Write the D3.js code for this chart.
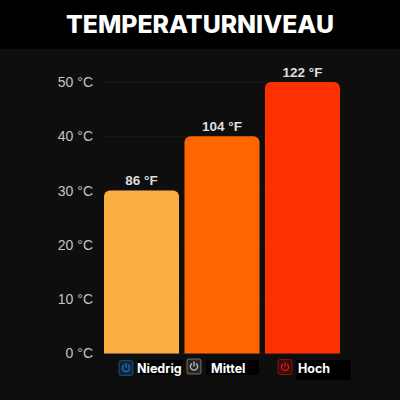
<!DOCTYPE html>
<html lang="de">
<head>
<meta charset="UTF-8">
<title>Temperaturniveau</title>
<script src="https://d3js.org/d3.v7.min.js"></script>
<style>
html, body { margin: 0; padding: 0; background: #0e0e0e; }
svg { display: block; }
</style>
</head>
<body>
<svg id="chart" width="400" height="400"></svg>
<script>
// Data
const categories = ["Niedrig", "Mittel", "Hoch"];
const celsius = [30, 40, 50];
const fahrenheit = ["86 °F", "104 °F", "122 °F"];
const barColors = ["#fdae42", "#ff6600", "#fd3100"];
const iconColors = ["#1f77c4", "#c9c9c9", "#d81e1e"];
const iconFills = ["#10263a", "#262626", "#3a0c0c"];
const yTicks = [0, 10, 20, 30, 40, 50];
const titleText = "TEMPERATURNIVEAU";

const svg = d3.select("#chart");
const sansFont = "Liberation Sans, Arial, sans-serif";
const titleFont = "Inter, sans-serif";

const x = d3.scaleBand().domain(categories).range([104, 340]).paddingInner(0.068).paddingOuter(0);
const y = d3.scaleLinear().domain([0, 50]).range([353.5, 82]);

// Background + title band
svg.append("rect").attr("width", 400).attr("height", 400).attr("fill", "#0e0e0e");
svg.append("rect").attr("width", 400).attr("height", 49).attr("fill", "#000");
svg.append("text")
    .attr("x", 200).attr("y", 33)
    .attr("text-anchor", "middle")
    .attr("textLength", 268)
    .attr("lengthAdjust", "spacingAndGlyphs")
    .attr("font-family", titleFont)
    .attr("font-size", 24)
    .attr("font-weight", 800)
    .attr("fill", "#fff")
    .text(titleText);

// Y axis
const yAxis = svg.append("g")
    .attr("transform", "translate(104,0)")
    .call(d3.axisLeft(y).tickValues(yTicks).tickSize(0).tickPadding(11).tickFormat(d => d + " °C"));
yAxis.select(".domain").remove();
yAxis.selectAll("text")
    .attr("font-family", sansFont)
    .attr("font-size", 14)
    .attr("fill", "#c4c4c4");

// Grid lines
svg.append("g").selectAll("line")
    .data(yTicks)
    .join("line")
    .attr("x1", 104).attr("x2", 340)
    .attr("y1", d => y(d)).attr("y2", d => y(d))
    .attr("stroke", "#191919");

// Bars, square at the bottom and rounded on top
function barPath(d, i) {
    const x0 = x(categories[i]);
    const x1 = x0 + x.bandwidth();
    const y0 = y(0);
    const yt = y(d);
    const path = d3.path();
    path.moveTo(x0, y0);
    path.lineTo(x0, yt + 6);
    path.arcTo(x0, yt, x0 + 6, yt, 6);
    path.lineTo(x1 - 6, yt);
    path.arcTo(x1, yt, x1, yt + 6, 6);
    path.lineTo(x1, y0);
    path.closePath();
    return path.toString();
}

svg.append("g").selectAll("path")
    .data(celsius)
    .join("path")
    .attr("d", barPath)
    .attr("fill", (d, i) => barColors[i]);

// Value labels above the bars
svg.append("g").selectAll("text")
    .data(celsius)
    .join("text")
    .attr("x", (d, i) => x(categories[i]) + x.bandwidth() / 2)
    .attr("y", d => y(d) - 5.5)
    .attr("text-anchor", "middle")
    .attr("font-family", sansFont)
    .attr("font-size", 13.5)
    .attr("font-weight", 700)
    .attr("fill", "#dedede")
    .text((d, i) => fahrenheit[i]);

// Legend: power icons with labels on black patches
const legendX = d3.scaleOrdinal().domain(categories).range([126, 194, 285]);
const legendY = d3.scaleOrdinal().domain(categories).range([367.5, 366, 366.5]);
const patches = d3.scaleOrdinal().domain(categories).range([[137, 46, 15], [206, 53, 15], [296, 55, 20]]);
const labelX = d3.scaleOrdinal().domain(categories).range([137, 211, 298]);

const legend = svg.append("g").selectAll("g")
    .data(categories)
    .join("g");

legend.append("rect")
    .attr("x", d => patches(d)[0])
    .attr("y", 360)
    .attr("width", d => patches(d)[1])
    .attr("height", d => patches(d)[2])
    .attr("fill", "#000");

legend.append("rect")
    .attr("x", d => legendX(d) - 7)
    .attr("y", d => legendY(d) - 7)
    .attr("width", 14).attr("height", 15)
    .attr("rx", 2)
    .attr("fill", (d, i) => iconFills[i])
    .attr("stroke", (d, i) => iconColors[i])
    .attr("stroke-opacity", 0.5);

// Power symbol: open ring and a short bar
const ring = d3.arc().innerRadius(3).outerRadius(4.2).startAngle(0.6).endAngle(2 * Math.PI - 0.6);
legend.append("path")
    .attr("d", ring())
    .attr("transform", d => `translate(${legendX(d)},${legendY(d) + 0.5})`)
    .attr("fill", (d, i) => iconColors[i]);
legend.append("line")
    .attr("x1", d => legendX(d)).attr("x2", d => legendX(d))
    .attr("y1", d => legendY(d) - 4.5).attr("y2", d => legendY(d) + 0.5)
    .attr("stroke", (d, i) => iconColors[i])
    .attr("stroke-width", 1.2);

legend.append("text")
    .attr("x", d => labelX(d))
    .attr("y", 372.5)
    .attr("font-family", titleFont)
    .attr("font-size", 12.5)
    .attr("font-weight", 700)
    .attr("fill", "#fff")
    .text(d => d);
</script>
</body>
</html>
